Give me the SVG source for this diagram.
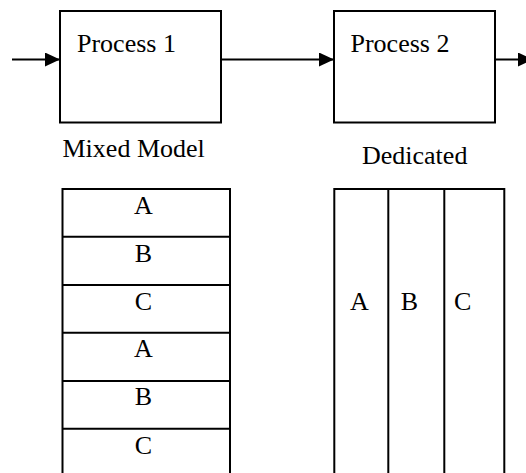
<svg xmlns="http://www.w3.org/2000/svg" width="526" height="473" viewBox="0 0 526 473">
<style>
.box{fill:#fff;stroke:#000;stroke-width:2}
.ln{stroke:#000;stroke-width:2;fill:none}
.t{font-family:"Liberation Serif","Times New Roman",serif;font-size:26px;fill:#000}
.c{text-anchor:middle}
</style>
<defs>
<marker id="ah" markerUnits="userSpaceOnUse" markerWidth="15" markerHeight="14" refX="15" refY="7" orient="auto">
<path d="M0,0 L15,7 L0,14 z" fill="#000"/>
</marker>
</defs>
<rect width="526" height="473" fill="#fff"/>
<g id="connectors">
<line class="ln" x1="12" y1="59.5" x2="60" y2="59.5" marker-end="url(#ah)"/>
<line class="ln" x1="221" y1="59.5" x2="334" y2="59.5" marker-end="url(#ah)"/>
<line class="ln" x1="495" y1="59.5" x2="533" y2="59.5" marker-end="url(#ah)"/>
</g>
<g id="process1">
<rect class="box" x="60" y="11" width="161" height="111.5"/>
<text class="t" x="77" y="52.3">Process 1</text>
</g>
<g id="process2">
<rect class="box" x="334" y="11" width="161" height="111.5"/>
<text class="t" x="350.5" y="52.3">Process 2</text>
</g>
<g id="label-mixed">
<text class="t" x="62.5" y="157.3">Mixed Model</text>
</g>
<g id="label-dedicated">
<text class="t" x="362" y="164">Dedicated</text>
</g>
<g id="mixed-table">
<rect class="box" x="62.5" y="189" width="167.5" height="300"/>
<line class="ln" x1="62.5" y1="236.7" x2="230" y2="236.7"/>
<line class="ln" x1="62.5" y1="285" x2="230" y2="285"/>
<line class="ln" x1="62.5" y1="332.7" x2="230" y2="332.7"/>
<line class="ln" x1="62.5" y1="381" x2="230" y2="381"/>
<line class="ln" x1="62.5" y1="428.7" x2="230" y2="428.7"/>
<text class="t c" x="143.5" y="214">A</text>
<text class="t c" x="143.5" y="261.7">B</text>
<text class="t c" x="143.5" y="310">C</text>
<text class="t c" x="143.5" y="357.3">A</text>
<text class="t c" x="143.5" y="405">B</text>
<text class="t c" x="143.5" y="454">C</text>
</g>
<g id="dedicated-table">
<rect class="box" x="334.3" y="189" width="170" height="300"/>
<line class="ln" x1="388.3" y1="189" x2="388.3" y2="489"/>
<line class="ln" x1="444.3" y1="189" x2="444.3" y2="489"/>
<text class="t" x="350" y="310">A</text>
<text class="t" x="400.7" y="310">B</text>
<text class="t" x="454" y="310">C</text>
</g>
</svg>
